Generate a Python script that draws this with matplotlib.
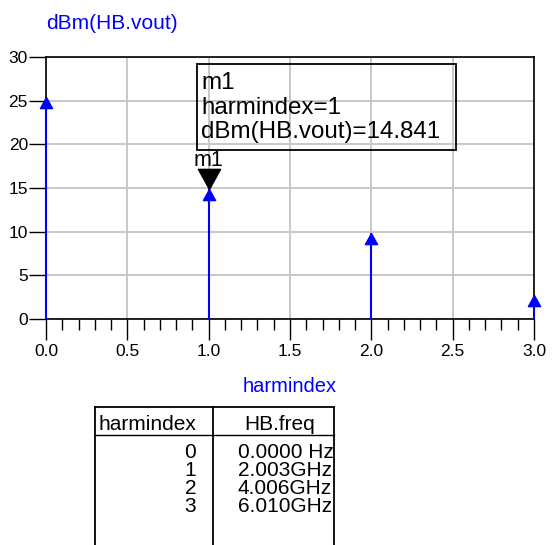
import numpy as np
import matplotlib.pyplot as plt
from matplotlib.path import Path
from matplotlib.patches import Rectangle

plt.rcParams['font.family'] = ['Liberation Sans', 'DejaVu Sans']

# harmonic balance result: output power per harmonic
harmindex = [0, 1, 2, 3]
dbm_vout = [25.4, 14.841, 9.9, 2.7]
freq_labels = ['0.0000 Hz', '2.003GHz', '4.006GHz', '6.010GHz']
marker_idx = 1

W, H = 554, 545
fig = plt.figure(figsize=(W / 100, H / 100), dpi=100)

# main plot area, in pixel box terms
x0, x1, y0, y1 = 46, 534, 57, 319
ax = fig.add_axes([x0 / W, 1 - y1 / H, (x1 - x0) / W, (y1 - y0) / H])
ax.set_xlim(0, 3)
ax.set_ylim(0, 30)
ax.set_xticks(np.arange(0, 3.01, 0.5))
ax.set_xticks(np.arange(0, 3.01, 0.1), minor=True)
ax.set_yticks(np.arange(0, 31, 5))
ax.set_xticklabels(['%.1f' % v for v in np.arange(0, 3.01, 0.5)])
ax.grid(True, color='#c8c8c8', lw=1.4)
ax.set_axisbelow(True)
ax.tick_params(axis='x', which='major', length=15, width=1, pad=3, labelsize=12.5)
ax.tick_params(axis='x', which='minor', length=8, width=1)
ax.tick_params(axis='y', which='major', length=12, width=1, pad=1, labelsize=12.5)
for s in ax.spines.values():
    s.set_linewidth(1.2)

# triangle markers whose tip sits on the value
tri_up = Path([(0, 0), (-0.55, -1), (0.55, -1), (0, 0)],
              [Path.MOVETO, Path.LINETO, Path.LINETO, Path.CLOSEPOLY])
tri_down = Path([(0, 0), (-0.55, 1), (0.55, 1), (0, 0)],
                [Path.MOVETO, Path.LINETO, Path.LINETO, Path.CLOSEPOLY])

ax.vlines(harmindex, 0, dbm_vout, color='#0000ff', lw=1.5, clip_on=False, zorder=3)
ax.plot(harmindex, dbm_vout, ls='none', marker=tri_up, ms=16, color='#0000ff',
        clip_on=False, zorder=4)

# marker m1
mx, my = harmindex[marker_idx], dbm_vout[marker_idx]
ax.plot([mx], [my], ls='none', marker=tri_down, ms=29, color='black', zorder=5)
ax.annotate('m1', (mx, my), xytext=(0, 23), textcoords='offset pixels',
            ha='center', va='baseline', fontsize=15.5)

ax.set_title('dBm(HB.vout)', color='#0000ff', fontsize=15, loc='left',
             x=0, pad=20)
ax.set_xlabel('harmindex', color='#0000ff', fontsize=14.5, labelpad=13)

# overlay in pixel coordinates for readout box and table
ov = fig.add_axes([0, 0, 1, 1])
ov.set_xlim(0, W)
ov.set_ylim(H, 0)
ov.axis('off')

ov.add_patch(Rectangle((197, 64), 259, 86, fill=False, ec='black', lw=1.3))
readout = ['m1', 'harmindex=%d' % mx, 'dBm(HB.vout)=%.3f' % my]
for txt, yb in zip(readout, [89, 114, 138]):
    ov.text(201, yb, txt, fontsize=17.4, va='baseline', ha='left')

# harmindex / HB.freq table
tl, tr, tc, tt, th = 95, 334, 213, 407, 435
ov.plot([tl, tr], [tt, tt], color='black', lw=1.3)
ov.plot([tl, tr], [th, th], color='black', lw=1)
for xv in [tl, tc, tr]:
    ov.plot([xv, xv], [tt, H], color='black', lw=1.3)
ov.text(98, 425, 'harmindex', fontsize=15, va='center', ha='left')
ov.text(280, 425, 'HB.freq', fontsize=15, va='center', ha='center')
clip = Rectangle((tl, tt), tr - tl, H - tt, transform=ov.transData, visible=False)
ov.add_patch(clip)
ov.text(196, 443, '\n'.join(str(h) for h in harmindex), fontsize=15,
        va='top', ha='right', multialignment='right', linespacing=0.93)
t = ov.text(238, 443, '\n'.join(freq_labels), fontsize=15,
            va='top', ha='left', linespacing=0.93)
t.set_clip_path(clip)

fig.savefig('out.png', dpi=100)
